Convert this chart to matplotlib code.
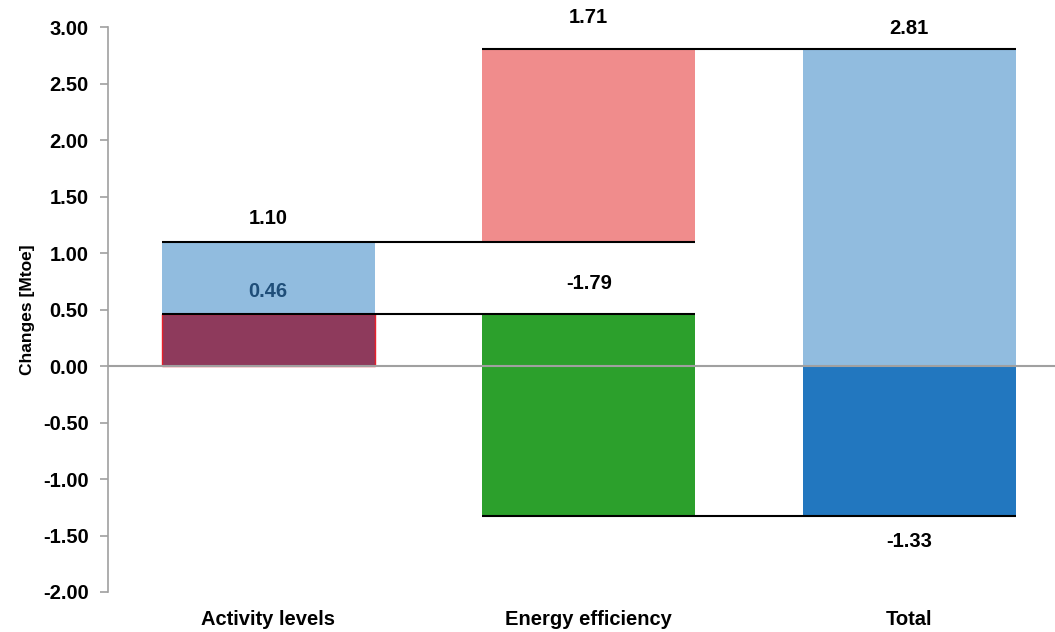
import matplotlib.pyplot as plt

plt.rcParams['font.family'] = ['Liberation Sans', 'DejaVu Sans']
plt.rcParams['font.weight'] = 'bold'

categories = ["Activity levels", "Energy efficiency", "Total"]

# effect values (Mtoe)
activity_effect = 1.10
activity_inner = 0.46
efficiency_up = 1.71
efficiency_down = -1.79
total_up = 2.81
total_down = -1.33

x = [0, 1, 2]
w = 0.665

fig = plt.figure(figsize=(10.55, 6.32), dpi=100)
ax = fig.add_axes([0.1024, 0.0633, 0.8976, 0.8937])

# bars
ax.bar(x[0], activity_inner, w, color="#8E3A5C", edgecolor="#E8202A", linewidth=1, zorder=2)
ax.bar(x[0], activity_effect - activity_inner, w, bottom=activity_inner, color="#91BCDF", zorder=2)
ax.bar(x[1], efficiency_up, w, bottom=activity_effect, color="#F08C8C", zorder=2)
ax.bar(x[1], efficiency_down, w, bottom=activity_inner, color="#2CA02C", zorder=2)
ax.bar(x[2], total_up, w, color="#91BCDF", zorder=2)
ax.bar(x[2], total_down, w, color="#2277BF", zorder=2)

# connector lines
ax.hlines(activity_effect, x[0] - w / 2, x[1] + w / 2, color="black", lw=1.5, zorder=3)
ax.hlines(activity_inner, x[0] - w / 2, x[1] + w / 2, color="black", lw=1.5, zorder=3)
ax.hlines(activity_effect + efficiency_up, x[1] - w / 2, x[2] + w / 2, color="black", lw=1.5, zorder=3)
ax.hlines(activity_inner + efficiency_down, x[1] - w / 2, x[2] + w / 2, color="black", lw=1.5, zorder=3)

ax.axhline(0, color="#A0A0A0", lw=1.5, zorder=4)

# labels
fs = 14.5
ax.text(x[0], 1.31, f"{activity_effect:.2f}", ha="center", va="center", fontsize=fs)
ax.text(x[0], 0.66, f"{activity_inner:.2f}", ha="center", va="center", fontsize=fs, color="#1F4E79")
ax.text(x[1], 3.09, f"{efficiency_up:.2f}", ha="center", va="center", fontsize=fs, clip_on=False)
ax.text(x[1], 0.73, f"{efficiency_down:.2f}", ha="center", va="center", fontsize=fs)
ax.text(x[2], 2.99, f"{total_up:.2f}", ha="center", va="center", fontsize=fs)
ax.text(x[2], -1.55, f"{total_down:.2f}", ha="center", va="center", fontsize=fs)

ax.set_xlim(-0.5, 2.455)
ax.set_ylim(-2, 3)
ax.set_yticks([-2, -1.5, -1, -0.5, 0, 0.5, 1, 1.5, 2, 2.5, 3])
ax.set_yticklabels([f"{v:.2f}" for v in ax.get_yticks()], fontsize=14.5)
ax.set_xticks(x)
ax.set_xticklabels(categories, fontsize=14.5)
ax.tick_params(axis="x", length=0, pad=13)
ax.tick_params(axis="y", length=6, color="#A0A0A0", width=1.2, pad=8)
ax.set_ylabel("Changes [Mtoe]", fontsize=12.5, fontweight="bold", labelpad=6)

for s in ["top", "right", "bottom"]:
    ax.spines[s].set_visible(False)
ax.spines["left"].set_color("#A0A0A0")
ax.spines["left"].set_linewidth(1.2)

fig.savefig("out.png", dpi=100)
